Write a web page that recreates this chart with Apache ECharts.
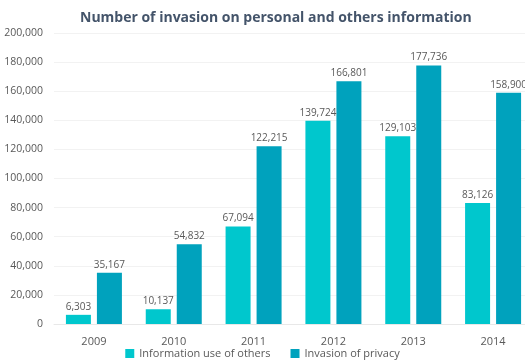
<!DOCTYPE html>
<html>
<head>
<meta charset="utf-8">
<script src="https://cdn.jsdelivr.net/npm/echarts@6/dist/echarts.min.js"></script>
<style>
html, body { margin: 0; padding: 0; background: #fff; }
#chart { width: 525px; height: 364px; }
</style>
</head>
<body>
<div id="chart"></div>
<script>
// 数据
var years = ['2009', '2010', '2011', '2012', '2013', '2014'];
var useOfOthers = [6303, 10137, 67094, 139724, 129103, 83126];
var invasionPrivacy = [35167, 54832, 122215, 166801, 177736, 158900];
var seriesNames = ['Information use of others', 'Invasion of privacy'];

var fontFamily = '"Open Sans", "Noto Sans", sans-serif';
var textColor = '#595959';

function fmt(v) {
	return Number(v).toLocaleString('en-US');
}

var myChart = echarts.init(document.getElementById('chart'));
var option = {
	color: ['#00C7CD', '#00A2BD'],
	title: {
		text: 'Number of invasion on personal and others information',
		left: 75,
		top: 6,
		textStyle: {
			fontFamily: fontFamily,
			fontSize: 14,
			fontWeight: 'bold',
			color: '#44546A'
		}
	},
	legend: {
		data: seriesNames,
		bottom: 0,
		left: 'center',
		itemWidth: 9,
		itemHeight: 9,
		itemGap: 20,
		icon: 'rect',
		textStyle: {
			fontFamily: fontFamily,
			fontSize: 11,
			color: textColor
		}
	},
	grid: {
		left: 54,
		right: -8,
		top: 33,
		bottom: 40,
		outerBoundsMode: 'none'
	},
	xAxis: {
		type: 'category',
		data: years,
		axisTick: { show: false },
		axisLine: { lineStyle: { color: '#e8e8e8' } },
		axisLabel: {
			fontFamily: fontFamily,
			fontSize: 11,
			color: textColor,
			margin: 12
		}
	},
	yAxis: {
		type: 'value',
		min: 0,
		max: 200000,
		interval: 20000,
		axisLine: { show: false },
		axisTick: { show: false },
		splitLine: { lineStyle: { color: '#f2f2f2' } },
		axisLabel: {
			fontFamily: fontFamily,
			fontSize: 10.5,
			color: textColor,
			margin: 11,
			formatter: fmt
		}
	},
	series: [{
		name: seriesNames[0],
		type: 'bar',
		data: useOfOthers,
		barWidth: 25,
		barGap: '24%',
		label: {
			show: true,
			position: 'top',
			distance: 3,
			fontFamily: fontFamily,
			fontSize: 10,
			color: textColor,
			formatter: function(p) { return fmt(p.value); }
		}
	}, {
		name: seriesNames[1],
		type: 'bar',
		data: invasionPrivacy,
		barWidth: 25,
		label: {
			show: true,
			position: 'top',
			distance: 3,
			fontFamily: fontFamily,
			fontSize: 10,
			color: textColor,
			formatter: function(p) { return fmt(p.value); }
		}
	}]
};
myChart.setOption(option);
</script>
</body>
</html>
